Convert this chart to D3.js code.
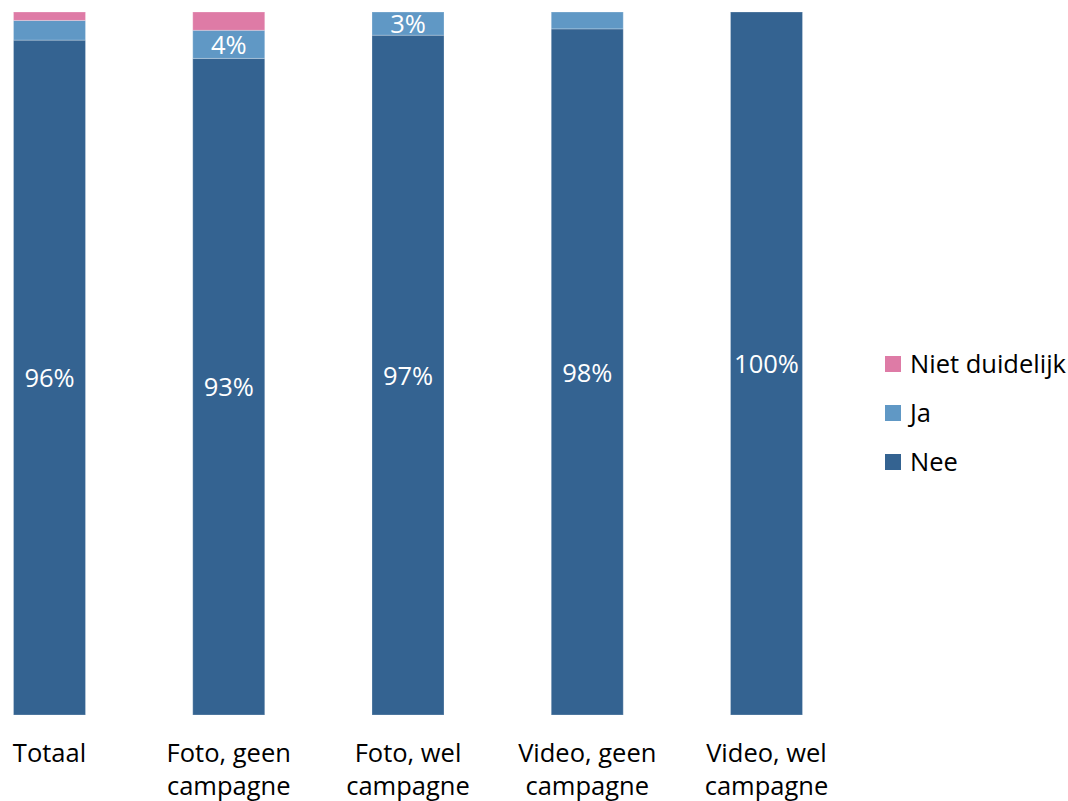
<!DOCTYPE html>
<html>
<head>
<meta charset="utf-8">
<script src="https://cdn.jsdelivr.net/npm/d3@7"></script>
<style>
  html, body { margin: 0; padding: 0; background: #fff; }
  svg { display: block; font-family: "Open Sans", Lato, sans-serif; }
</style>
</head>
<body>
<svg id="chart" width="1068" height="801"></svg>
<script>
// Categories (two-line labels) and stacked shares in percent
const categories = ["Totaal", "Foto, geen campagne", "Foto, wel campagne", "Video, geen campagne", "Video, wel campagne"];
const categoryLines = [["Totaal"], ["Foto, geen", "campagne"], ["Foto, wel", "campagne"], ["Video, geen", "campagne"], ["Video, wel", "campagne"]];
const nee = [96, 93.4, 96.7, 97.6, 100];
const ja = [2.8, 4.0, 3.3, 2.4, 0];
const nietDuidelijk = [1.2, 2.6, 0, 0, 0];
// Value labels shown inside segments (empty = no label)
const neeLabels = ["96%", "93%", "97%", "98%", "100%"];
const jaLabels = ["", "4%", "3%", "", ""];
const seriesNames = ["Nee", "Ja", "Niet duidelijk"];
const seriesColors = ["#346391", "#6098c5", "#de7ba6"];

const fontSize = 25.5;
const svg = d3.select("#chart");

const rows = categories.map((c, i) => ({ cat: c, Nee: nee[i], Ja: ja[i], "Niet duidelijk": nietDuidelijk[i] }));
const stacked = d3.stack().keys(seriesNames)(rows);

const x = d3.scalePoint().domain(categories).range([49.5, 766.5]);
const barW = 72;
const y = d3.scaleLinear().domain([0, 100]).range([715, 12]);
const color = d3.scaleOrdinal().domain(seriesNames).range(seriesColors);

const layers = svg.append("g").selectAll("g")
  .data(stacked).join("g")
  .attr("fill", d => color(d.key));

layers.selectAll("rect")
  .data(d => d.filter(p => p[1] - p[0] > 0))
  .join("rect")
  .attr("x", d => x(d.data.cat) - barW / 2)
  .attr("width", barW)
  .attr("y", d => y(d[1]))
  .attr("height", d => y(d[0]) - y(d[1]))
  .attr("stroke", "rgba(255,255,255,0.25)")
  .attr("stroke-width", 1);

// Segment value labels
const labelSets = { Nee: neeLabels, Ja: jaLabels };
stacked.forEach(layer => {
  const labels = labelSets[layer.key];
  if (!labels) return;
  svg.append("g").selectAll("text")
    .data(layer.map((d, i) => ({ d, t: labels[i] })).filter(o => o.t))
    .join("text")
    .attr("x", o => x(o.d.data.cat))
    .attr("y", o => (y(o.d[0]) + y(o.d[1])) / 2)
    .attr("dy", "0.38em")
    .attr("text-anchor", "middle")
    .attr("fill", "#fff")
    .attr("font-size", fontSize)
    .text(o => o.t);
});

// Category axis labels
const axisG = svg.append("g");
axisG.selectAll("text")
  .data(categories)
  .join("text")
  .attr("x", d => x(d))
  .attr("y", 762)
  .attr("text-anchor", "middle")
  .attr("fill", "#000")
  .attr("font-size", fontSize)
  .each(function (d, i) {
    d3.select(this).selectAll("tspan")
      .data(categoryLines[i])
      .join("tspan")
      .attr("x", x(d))
      .attr("dy", (t, j) => j === 0 ? 0 : 33)
      .text(t => t);
  });

// Legend (top entry is the top segment)
const legendOrder = ["Niet duidelijk", "Ja", "Nee"];
const legend = svg.append("g").attr("transform", "translate(885,356)");
const item = legend.selectAll("g")
  .data(legendOrder)
  .join("g")
  .attr("transform", (d, i) => `translate(0,${i * 49})`);
item.append("rect").attr("width", 16).attr("height", 16).attr("fill", d => color(d));
item.append("text")
  .attr("x", 25).attr("y", 8).attr("dy", "0.36em")
  .attr("font-size", fontSize).attr("fill", "#000")
  .text(d => d);
</script>
</body>
</html>
